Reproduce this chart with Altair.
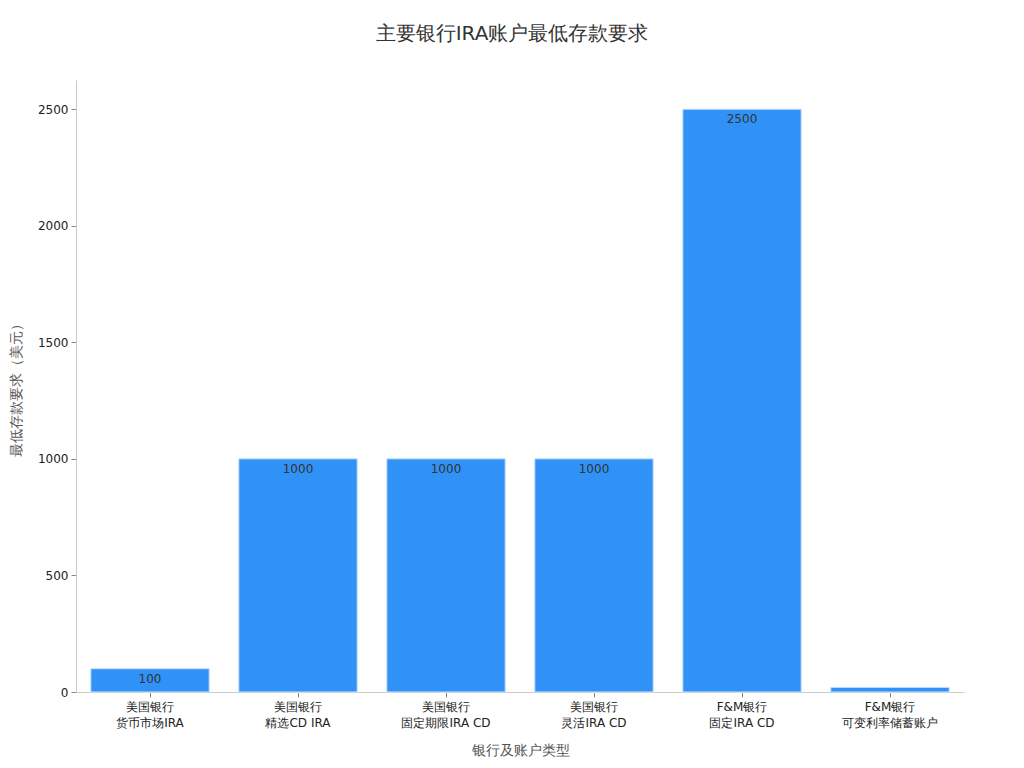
import altair as alt
import pandas as pd

categories = ["美国银行|货币市场IRA", "美国银行|精选CD IRA", "美国银行|固定期限IRA CD",
              "美国银行|灵活IRA CD", "F&M银行|固定IRA CD", "F&M银行|可变利率储蓄账户"]
values = [100, 1000, 1000, 1000, 2500, 20]
labels = ["100", "1000", "1000", "1000", "2500", "20"]

df = pd.DataFrame({"cat": categories, "val": values, "lab": labels})

FONT = "DejaVu Sans"

x = alt.X("cat:N", sort=categories, title="银行及账户类型",
          scale=alt.Scale(paddingInner=0.2, paddingOuter=0.1),
          axis=alt.Axis(labelAngle=0, labelExpr="split(datum.label, '|')",
                        labelFontSize=12, labelColor="#222", labelFont=FONT,
                        labelLineHeight=16,
                        titleFontSize=14, titleColor="#555", titleFont=FONT,
                        titleFontWeight="normal", titlePadding=15,
                        domainColor="#ccc", tickColor="#888", tickSize=5,
                        labelPadding=4))
y = alt.Y("val:Q", title="最低存款要求（美元）",
          scale=alt.Scale(domain=[0, 2625], nice=False),
          axis=alt.Axis(values=[0, 500, 1000, 1500, 2000, 2500], grid=False, format="d",
                        labelFontSize=12, labelColor="#222", labelFont=FONT,
                        titleFontSize=14, titleColor="#555", titleFont=FONT,
                        titleFontWeight="normal", titlePadding=14,
                        domainColor="#ccc", tickColor="#888", tickSize=5,
                        labelPadding=3))

bars = alt.Chart(df).mark_bar(color="#3092f6", stroke="#cfe3fb", strokeWidth=1).encode(x=x, y=y)
text = alt.Chart(df).mark_text(baseline="top", dy=5, fontSize=12, color="#333", font=FONT,
                               clip=True).encode(
    x=alt.X("cat:N", sort=categories), y="val:Q", text="lab:N")

chart = (bars + text).properties(
    width=888, height=612,
    title=alt.TitleParams("主要银行IRA账户最低存款要求", fontSize=20, font=FONT,
                          fontWeight="normal", color="#333", offset=36, dx=-8),
    autosize=alt.AutoSizeParams(type="none"),
    padding={"left": 68, "top": 72, "right": 40, "bottom": 72},
).configure_view(stroke=None)

chart.save("out.html", embed_options={"renderer": "svg", "actions": False})
